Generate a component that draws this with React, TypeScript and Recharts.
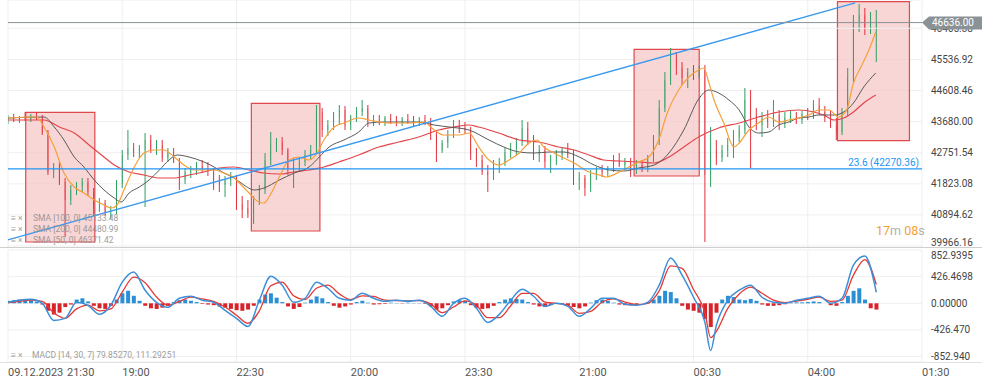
import React from 'react';
import { ComposedChart, Bar, Line, XAxis, YAxis, CartesianGrid, ReferenceLine, ReferenceArea, Cell } from 'recharts';

// ---------- data ----------
const opens = [
  43728, 43787, 43698, 43817, 43757, 43847, 43787, 43339, 42175, 42354,
  41877, 41339, 41638, 41757, 41877, 41578, 41100, 41250, 40981, 41041,
  41817, 42683, 42892, 42772, 42832, 43130, 42832, 42981, 42593, 42772,
  42533, 41936, 42175, 42235, 42354, 42295, 42175, 41936, 41787, 41936,
  41996, 41220, 41100, 40921, 41339, 41638, 42533, 42981, 43071, 42832,
  42295, 42384, 42474, 42683, 42832, 43966, 43429, 43578, 43787, 44026,
  43578, 43787, 43966, 44086, 43668, 43757, 43698, 43787, 43728, 43638,
  43757, 43698, 43608, 43728, 43668, 43280, 42832, 43041, 43280, 43578,
  43489, 43429, 42683, 42533, 42175, 42086, 42384, 42474, 42772, 42892,
  43071, 43489, 43130, 42683, 42832, 42474, 42593, 42683, 42832, 42683,
  41936, 41996, 41697, 42115, 42235, 42175, 42295, 42533, 42384, 42474,
  42235, 42384, 42295, 42593, 43130, 44086, 44922, 45519, 45280, 44981,
  45161, 45101, 45220, 42086, 42832, 42593, 42832, 42981, 43190, 43429,
  44325, 43877, 43578, 43787, 43668, 43877, 43608, 43787, 43847, 43728,
  43907, 43847, 44146, 43966, 43787, 43578, 43369, 43966, 44981, 46653,
  46862, 46474, 46414,
];
const highs = [
  43877, 43907, 43847, 43966, 43907, 43966, 43877, 43429, 42444, 42474,
  41996, 41787, 41877, 41996, 41996, 41697, 41399, 41339, 41160, 41936,
  42832, 43429, 43041, 42981, 43339, 43280, 43130, 43130, 42892, 42892,
  42593, 42295, 42354, 42474, 42533, 42474, 42295, 42086, 42056, 42175,
  42086, 41459, 41339, 41459, 41787, 42742, 43369, 43190, 43220, 42892,
  42593, 42623, 42832, 42981, 44175, 44086, 43728, 43966, 44175, 44146,
  43877, 44116, 44325, 44175, 43877, 43877, 43847, 43907, 43847, 43817,
  43907, 43847, 43817, 43877, 43787, 43429, 43130, 43429, 43728, 43728,
  43668, 43519, 42892, 42683, 42384, 42533, 42593, 42892, 43041, 43190,
  43728, 43668, 43280, 42981, 42951, 42683, 42832, 42921, 43041, 42832,
  42175, 42086, 42235, 42324, 42384, 42354, 42683, 42742, 42593, 42593,
  42533, 42533, 42683, 43280, 44325, 45161, 45877, 45758, 45459, 45280,
  45370, 45340, 45370, 43519, 43130, 42981, 43190, 43429, 43578, 44683,
  44623, 44086, 43966, 44026, 44325, 44026, 43966, 44026, 43966, 43996,
  44086, 44325, 44384, 44146, 44026, 43787, 44086, 45280, 46862, 47191,
  47071, 46952, 47012,
];
const lows = [
  43608, 43668, 43638, 43698, 43668, 43728, 43280, 42086, 41996, 41787,
  40235, 41190, 41488, 41578, 41459, 40862, 40981, 40862, 40772, 40921,
  41697, 42533, 42623, 42593, 41130, 42742, 42683, 42474, 42474, 42444,
  41638, 41817, 41996, 42086, 42145, 42056, 41638, 41578, 41429, 41757,
  41041, 40802, 40802, 40623, 41190, 41518, 42384, 42772, 42683, 42086,
  41697, 42175, 42354, 42533, 42712, 43220, 43250, 43429, 43608, 43429,
  43429, 43668, 43847, 43519, 43548, 43578, 43548, 43608, 43548, 43548,
  43608, 43519, 43548, 43578, 43130, 42474, 42742, 42892, 43190, 43339,
  43310, 42533, 42324, 42086, 41578, 41936, 42145, 42354, 42593, 42653,
  42951, 42981, 42533, 42474, 42295, 42145, 42384, 42533, 42593, 41787,
  41638, 41459, 41578, 41936, 42026, 42056, 42175, 42324, 42235, 42026,
  42115, 42175, 42175, 42474, 42981, 43966, 44772, 45071, 44772, 44683,
  44922, 44981, 40085, 41727, 42384, 42474, 42623, 42593, 43071, 43310,
  42295, 43429, 43220, 43489, 43519, 43429, 43489, 43638, 43608, 43608,
  43728, 43757, 43877, 43668, 43489, 43130, 43280, 43847, 44862, 46355,
  46265, 46295, 45459,
];
const closes = [
  43787, 43698, 43817, 43757, 43847, 43787, 43339, 42175, 42354, 41877,
  41339, 41638, 41757, 41877, 41578, 41100, 41250, 40981, 41041, 41817,
  42683, 42892, 42772, 42892, 43130, 42832, 42981, 42593, 42772, 42533,
  41936, 42175, 42235, 42354, 42295, 42175, 41936, 41787, 41936, 41996,
  41220, 41041, 40921, 41339, 41638, 42533, 42981, 43071, 42832, 42295,
  42384, 42474, 42683, 42832, 43966, 43429, 43578, 43787, 44026, 43578,
  43787, 43966, 44086, 43668, 43757, 43698, 43787, 43728, 43638, 43757,
  43698, 43608, 43728, 43668, 43280, 42832, 43041, 43280, 43578, 43489,
  43429, 42683, 42533, 42175, 42086, 42384, 42474, 42772, 42892, 43071,
  43489, 43130, 42683, 42832, 42474, 42593, 42683, 42832, 42683, 41936,
  41996, 41697, 42115, 42235, 42175, 42295, 42533, 42384, 42474, 42235,
  42384, 42295, 42593, 43130, 44086, 44922, 45519, 45280, 44981, 45161,
  45101, 45220, 42086, 42832, 42593, 42832, 42981, 43190, 43429, 44325,
  43877, 43578, 43787, 43668, 43877, 43608, 43787, 43847, 43728, 43907,
  43847, 44146, 43966, 43787, 43578, 43369, 43966, 44981, 46653, 46862,
  46474, 46713, 46623,
];

// moving averages: [bar position, value]
const sma50 = [
  [0, 43787], [5, 43817], [6.3, 43519], [8.1, 42921], [9.8, 42145], [11.6, 41727], [13.3, 41548], [15.1, 41339],
  [16.8, 41190], [18.1, 41100], [19.1, 41190], [20.3, 41638], [22.1, 42324], [23.8, 42742], [25.6, 42832],
  [27.3, 42832], [29.1, 42623], [30.8, 42384], [32.6, 42235], [36.1, 42235], [37.8, 42145], [39.6, 41996],
  [40.5, 41847], [42.2, 41548], [43.9, 41280], [44.8, 41250], [45.7, 41429], [47.5, 42026], [49.2, 42533],
  [50.9, 42623], [52.7, 42533], [54.1, 42742], [55.3, 43130], [57.1, 43519], [58.8, 43638], [61.4, 43787],
  [63.2, 43728], [66.7, 43638], [70.2, 43638], [72.8, 43668], [74.6, 43429], [76.3, 43280], [79, 43280],
  [80.7, 43339], [82.4, 42921], [84.2, 42533], [85.9, 42384], [87.7, 42533], [89.5, 42742], [91.2, 43041],
  [92.6, 43130], [93.8, 42921], [95.6, 42742], [97.3, 42593], [99.1, 42444], [101.7, 42175], [103.5, 42086],
  [104.7, 42026], [107, 42175], [108.7, 42324], [110.4, 42474], [112.2, 42623], [113.9, 43130], [115.4, 43937],
  [117.4, 44623], [119.2, 45011], [120.9, 45220], [121.8, 45280], [122.7, 44832], [123.6, 44325], [125.3, 43638],
  [127.1, 42921], [128, 43041], [129.7, 43429], [131.4, 43638], [133.2, 43817], [134.9, 43668], [136.7, 43728],
  [138.4, 43787], [140.2, 43877], [141.9, 44026], [143.7, 44026], [145.4, 43817], [146.8, 44026], [148, 44832],
  [149.3, 45310], [150.7, 45817], [151.9, 46355],
];
const sma100 = [
  [0, 43787], [6.3, 43817], [8.1, 43519], [9.8, 43130], [11.6, 42623], [13.3, 42324], [15.1, 41936],
  [16.8, 41638], [18.6, 41399], [19.8, 41280], [21.2, 41548], [23, 41727], [24.7, 41936], [26.5, 42235],
  [28.2, 42533], [29.6, 42683], [31.7, 42623], [34.3, 42474], [36.1, 42324], [37.8, 42145], [39.6, 41996],
  [41.3, 41787], [43.1, 41638], [44.8, 41697], [47.5, 41936], [50.1, 42145], [52.7, 42324], [54.5, 42623],
  [56.2, 42921], [58.8, 43130], [61.4, 43369], [63.2, 43638], [65.8, 43668], [71.9, 43668], [74.6, 43578],
  [77.2, 43519], [80.7, 43429], [84.2, 43130], [86.8, 42921], [89.5, 42772], [92.1, 42742], [94.7, 42772],
  [97.3, 42772], [100, 42623], [102.6, 42384], [105.3, 42235], [107.8, 42205], [110.4, 42295], [113.1, 42384],
  [115.7, 42742], [118.3, 43429], [120.9, 44355], [122.7, 44623], [124.4, 44534], [126.2, 44325], [128, 44026],
  [129.7, 43519], [131.4, 43339], [133.2, 43369], [134.9, 43578], [136.7, 43668], [138.4, 43787], [140.2, 43817],
  [141.9, 43877], [144.6, 43877], [146.3, 43966], [148, 44235], [149.8, 44713], [151.9, 45131],
];
const sma200 = [
  [0, 43728], [6.3, 43728], [9, 43519], [11.6, 43339], [14.2, 42981], [16.8, 42623], [18.6, 42384],
  [21.2, 42175], [23.8, 42086], [26.5, 41996], [29.1, 41996], [31.7, 42086], [34.3, 42175], [37, 42295],
  [39.6, 42324], [42.2, 42235], [44.8, 42145], [47.5, 42115], [50.1, 42175], [52.7, 42235], [55.3, 42324],
  [57.9, 42474], [61.4, 42683], [64.9, 42921], [68.4, 43071], [71.9, 43220], [75.4, 43429], [78.1, 43519],
  [80.7, 43578], [82.4, 43519], [85.9, 43339], [89.5, 43130], [92.9, 43071], [96.4, 42921], [99.1, 42832],
  [101.7, 42683], [104.3, 42533], [107, 42503], [110.4, 42474], [113.1, 42444], [115.7, 42623], [118.3, 42921],
  [120.9, 43220], [124.4, 43489], [128, 43638], [131.4, 43817], [134.9, 43966], [138.4, 44026], [141.1, 43966],
  [142.8, 43877], [144.6, 43728], [146.3, 43787], [148, 43966], [149.8, 44235], [151.9, 44474],
];

// MACD panel
const macdLine = [
  [0, 16], [2, 48], [4, 64], [6, 0], [8, -274], [10, -241], [12, 16], [14, -32], [16, -177], [18, -32],
  [20, 338], [22, 499], [24, 209], [26, 16], [28, -64], [30, 80], [32, 113], [34, 48], [36, 16], [38, -113],
  [40, -241], [42, -370], [44, 48], [46, 434], [48, 290], [50, 16], [52, 80], [54, 338], [56, 241], [58, 80],
  [60, 48], [62, 161], [64, 80], [66, 32], [68, 48], [70, 32], [72, 48], [74, -48], [76, -209], [78, 0],
  [80, 80], [82, -80], [84, -306], [86, -177], [88, 48], [90, 225], [92, 113], [94, -48], [96, 0], [98, -48],
  [100, -209], [102, -80], [104, 80], [106, 80], [108, -16], [110, -32], [112, 16], [114, 290], [116, 724],
  [118, 450], [120, 97], [122, -306], [123, -756], [124, -354], [126, 48], [128, 209], [130, 290], [132, 97],
  [134, 16], [136, 0], [138, 48], [140, 80], [142, 113], [144, 0], [146, 80], [148, 611], [150, 756], [152, 177],
];
const signalLine = [
  [0, 10], [2, 30], [4, 50], [6, 30], [8, -150], [10, -240], [12, -90], [14, -30], [16, -120], [18, -90],
  [20, 180], [22, 420], [24, 330], [26, 100], [28, -30], [30, 30], [32, 100], [34, 70], [36, 30], [38, -60],
  [40, -190], [42, -320], [44, -120], [46, 280], [48, 340], [50, 120], [52, 60], [54, 240], [56, 290], [58, 150],
  [60, 60], [62, 120], [64, 110], [66, 50], [68, 45], [70, 40], [72, 45], [74, -10], [76, -150], [78, -60],
  [80, 40], [82, -30], [84, -230], [86, -230], [88, -40], [90, 160], [92, 160], [94, 20], [96, 0], [98, -30],
  [100, -160], [102, -130], [104, 20], [106, 70], [108, 20], [110, -20], [112, 0], [114, 200], [116, 600],
  [118, 560], [120, 220], [122, -150], [123, -550], [124, -450], [126, -80], [128, 150], [130, 260], [132, 160],
  [134, 50], [136, 10], [138, 35], [140, 65], [142, 100], [144, 30], [146, 50], [148, 450], [150, 700], [152, 300],
];
const histogram = [
  40, 50, 60, 60, 50, 30, -20, -120, -180, -150,
  -60, -20, 60, 80, 30, -40, -80, -90, -40, 60,
  160, 200, 120, 40, -40, -80, -90, -70, -40, 20,
  50, 60, 40, 20, -10, -20, -30, -50, -70, -90,
  -110, -120, -100, -40, 60, 140, 160, 90, 20, -50,
  -90, -60, 10, 60, 110, 80, 20, -40, -70, -50,
  -20, 20, 40, 10, -20, -15, -10, 10, 5, -5,
  10, 5, 5, -10, -50, -100, -80, -30, 30, 50,
  40, -30, -70, -90, -80, -40, 20, 60, 80, 70,
  60, 20, -20, -50, -60, -30, 0, -10, -30, -60,
  -80, -50, 10, 50, 60, 40, 10, -20, -30, -30,
  -20, 0, 20, 60, 120, 200, 180, 80, -40, -100,
  -120, -150, -250, -380, -150, 60, 120, 100, 60, 50,
  70, 40, -20, -40, -40, -30, -15, 10, 15, 15,
  20, 30, 20, 0, -30, -40, 20, 120, 200, 240,
  60, -80, -100,
];

// highlighted zones: [fromBar, toBar, lowPrice, highPrice]
const zones = [
  [3.1, 15.2, 40085, 43958],
  [42.6, 54.6, 40414, 44226],
  [109.6, 121.0, 42056, 45838],
  [145.2, 157.8, 43110, 47259],
];
const trendFrom = { x: 0, y: 40151 };
const trendTo = { x: 148.3, y: 47221 };
const fibLevel = 42270.36;
const lastPrice = 46636.0;

const xTicks = [0, 20, 40, 60, 80, 100, 120, 140, 160];
const xTickLabels = ['21:30', '19:00', '22:30', '20:00', '23:30', '21:00', '00:30', '04:00', '01:30'];
const firstDate = '09.12.2023';
const priceTicks = [39966.16, 40894.62, 41823.08, 42751.54, 43680.0, 44608.46, 45536.92];
const topPriceTick = 46465.38;
const macdTicks = [852.9395, 426.4698, 0, -426.47, -852.94];
const macdTickLabels = ['852.9395', '426.4698', '0.00000', '-426.470', '-852.940'];

// ---------- derived tables ----------
const candles = opens.map((o, i) => ({ i, o, h: highs[i], l: lows[i], c: closes[i], range: [lows[i], highs[i]] }));
const toRows = (arr: number[][]) => arr.map(([i, v]) => ({ i, v }));
const sma50Rows = toRows(sma50);
const sma100Rows = toRows(sma100);
const sma200Rows = toRows(sma200);
const macdRows = toRows(macdLine);
const signalRows = toRows(signalLine);
const histRows = histogram.map((h, i) => ({ i, h }));

const UP = '#2f9e62';
const DOWN = '#e0313d';
const FONT = 'Roboto, Arial, sans-serif';

const Candle = (props: any) => {
  const { x, y, width, height, payload } = props;
  if (!payload || height == null) return null;
  const { o, h, l, c } = payload;
  const top = Math.min(y, y + height);
  const hgt = Math.abs(height);
  const k = h - l > 0 ? hgt / (h - l) : 0;
  const yo = top + (h - o) * k;
  const yc = top + (h - c) * k;
  const color = c >= o ? UP : DOWN;
  const cx = x + width / 2;
  return (
    <g>
      <line x1={cx} x2={cx} y1={top} y2={top + hgt} stroke={color} strokeWidth={1} />
      <rect x={x} y={Math.min(yo, yc)} width={width} height={Math.max(1, Math.abs(yc - yo))} fill={color} />
    </g>
  );
};

const PriceTick = (props: any) => {
  const { x, y, payload } = props;
  const shift = payload.value === priceTicks[0] ? -3 : 0;
  return (
    <text x={x + 1} y={y + shift} dy="0.35em" textAnchor="start" fill="#444" fontSize={10} fontFamily={FONT}>
      {payload.value.toFixed(2)}
    </text>
  );
};

const MacdTick = (props: any) => {
  const { x, y, payload } = props;
  const idx = macdTicks.indexOf(payload.value);
  const shift = idx === 0 ? 5 : 0;
  return (
    <text x={x + 1} y={y + shift} dy="0.35em" textAnchor="start" fill="#444" fontSize={10} fontFamily={FONT}>
      {macdTickLabels[idx]}
    </text>
  );
};

const TimeTick = (props: any) => {
  const { x, y, payload } = props;
  const idx = xTicks.indexOf(payload.value);
  if (idx === 0) {
    return (
      <g>
        <text x={x} y={y + 6} textAnchor="start" fill="#555" fontSize={11} fontFamily={FONT}>{firstDate}</text>
        <text x={x + 59} y={y + 6} textAnchor="start" fill="#555" fontSize={11} fontFamily={FONT}>{xTickLabels[0]}</text>
      </g>
    );
  }
  return (
    <text x={x} y={y + 6} textAnchor="start" fill="#555" fontSize={11} fontFamily={FONT}>{xTickLabels[idx]}</text>
  );
};

const TopTickLabel = (props: any) => {
  const vb = props.viewBox || {};
  return (
    <text x={vb.x + vb.width + 9} y={vb.y} dy="0.35em" textAnchor="start" fill="#444" fontSize={10} fontFamily={FONT}>
      {topPriceTick.toFixed(2)}
    </text>
  );
};

const PriceBadge = (props: any) => {
  const vb = props.viewBox || {};
  const x = vb.x + vb.width;
  const y = vb.y;
  return (
    <g>
      <path d={`M${x} ${y} L${x + 7} ${y - 6} H${x + 60} V${y + 7} H${x + 7} Z`} fill="#8a9296" />
      <text x={x + 31} y={y} dy="0.36em" textAnchor="middle" fill="#fff" fontSize={10} fontFamily={FONT}>
        {lastPrice.toFixed(2)}
      </text>
    </g>
  );
};

export default function App() {
  return (
    <div style={{ position: 'absolute', left: 0, top: 0, width: 982, height: 382, background: '#fff', fontFamily: FONT, overflow: 'hidden' }}>
      <div style={{ position: 'absolute', left: 0, top: 0 }}>
        <ComposedChart width={982} height={248} data={candles} margin={{ top: 0, right: 0, left: 8, bottom: 0 }}>
          <CartesianGrid stroke="#efefef" />
          <XAxis type="number" dataKey="i" domain={[0, 160]} ticks={xTicks} hide allowDataOverflow />
          <YAxis
            orientation="right"
            width={60}
            domain={[39906.4, 47310.25]}
            ticks={priceTicks}
            interval={0}
            allowDataOverflow
            axisLine={false}
            tickLine={false}
            tick={<PriceTick />}
          />
          <ReferenceLine y={topPriceTick} stroke="#efefef" strokeWidth={1} label={(p: any) => <TopTickLabel {...p} />} />
          <Bar dataKey="range" barSize={3} isAnimationActive={false} shape={(p: any) => <Candle {...p} />} />
          <Line data={sma200Rows} dataKey="v" type="monotone" stroke="#e2474c" strokeWidth={1.2} dot={false} isAnimationActive={false} />
          <Line data={sma100Rows} dataKey="v" type="monotone" stroke="#5a5a5a" strokeWidth={1} dot={false} isAnimationActive={false} />
          <Line data={sma50Rows} dataKey="v" type="monotone" stroke="#f6a03a" strokeWidth={1.2} dot={false} isAnimationActive={false} />
          {zones.map((z, k) => (
            <ReferenceArea key={k} x1={z[0]} x2={z[1]} y1={z[2]} y2={z[3]} fill="#f5c4c4" fillOpacity={0.7} stroke="#e0484d" strokeWidth={1.2} strokeOpacity={1} />
          ))}
          <ReferenceLine segment={[trendFrom, trendTo]} stroke="#3b9aee" strokeWidth={1.3} />
          <ReferenceLine
            y={fibLevel}
            stroke="#2196f3"
            strokeWidth={1.2}
            label={{ value: '23.6 (42270.36)', position: 'insideBottomRight', offset: 3, fill: '#2196f3', fontSize: 10 }}
          />
          <ReferenceLine y={lastPrice} stroke="#8a9296" strokeWidth={1} label={(p: any) => <PriceBadge {...p} />} />
        </ComposedChart>
      </div>
      <div style={{ position: 'absolute', left: 0, top: 248 }}>
        <ComposedChart width={982} height={134} data={histRows} margin={{ top: 2, right: 0, left: 8, bottom: 0 }}>
          <CartesianGrid stroke="#efefef" />
          <XAxis
            type="number"
            dataKey="i"
            domain={[0, 160]}
            ticks={xTicks}
            interval={0}
            height={20}
            axisLine={false}
            tickLine={false}
            tick={<TimeTick />}
            allowDataOverflow
          />
          <YAxis
            orientation="right"
            width={60}
            domain={[-939.4, 852.9395]}
            ticks={macdTicks}
            interval={0}
            allowDataOverflow
            axisLine={false}
            tickLine={false}
            tick={<MacdTick />}
          />
          <Bar dataKey="h" barSize={4} isAnimationActive={false}>
            {histRows.map((r, k) => (
              <Cell key={k} fill={r.h >= 0 ? '#2b8fd6' : '#d8232a'} />
            ))}
          </Bar>
          <Line data={signalRows} dataKey="v" type="monotone" stroke="#e53935" strokeWidth={1.3} dot={false} isAnimationActive={false} />
          <Line data={macdRows} dataKey="v" type="monotone" stroke="#3c8fd8" strokeWidth={1.5} dot={false} isAnimationActive={false} />
        </ComposedChart>
      </div>
      <div style={{ position: 'absolute', left: 0, top: 247, width: 982, height: 1, background: '#cfcfcf' }} />
      <div style={{ position: 'absolute', left: 0, top: 362, width: 982, height: 1, background: '#e2e2e2' }} />
      <svg width={982} height={382} style={{ position: 'absolute', left: 0, top: 0, pointerEvents: 'none' }}>
        <g fontFamily={FONT} fontSize={8.5} fill="#8e8e8e" opacity={0.85}>
          <text x={11} y={221}>≡ ×</text>
          <text x={33} y={221}>SMA [100, 0] 45133.48</text>
          <text x={11} y={232}>≡ ×</text>
          <text x={33} y={232}>SMA [200, 0] 44480.99</text>
          <text x={11} y={243}>≡ ×</text>
          <text x={33} y={243}>SMA [50, 0] 46371.42</text>
          <text x={11} y={358}>≡ ×</text>
          <text x={32} y={358}>MACD [14, 30, 7] 79.85270,  111.29251</text>
        </g>
        <text x={876} y={235} fontFamily={FONT} fontSize={12.5}>
          <tspan fill="#f5a030">17</tspan>
          <tspan fill="#b0b0b0">m </tspan>
          <tspan fill="#f5a030">08</tspan>
          <tspan fill="#b0b0b0">s</tspan>
        </text>
      </svg>
    </div>
  );
}
